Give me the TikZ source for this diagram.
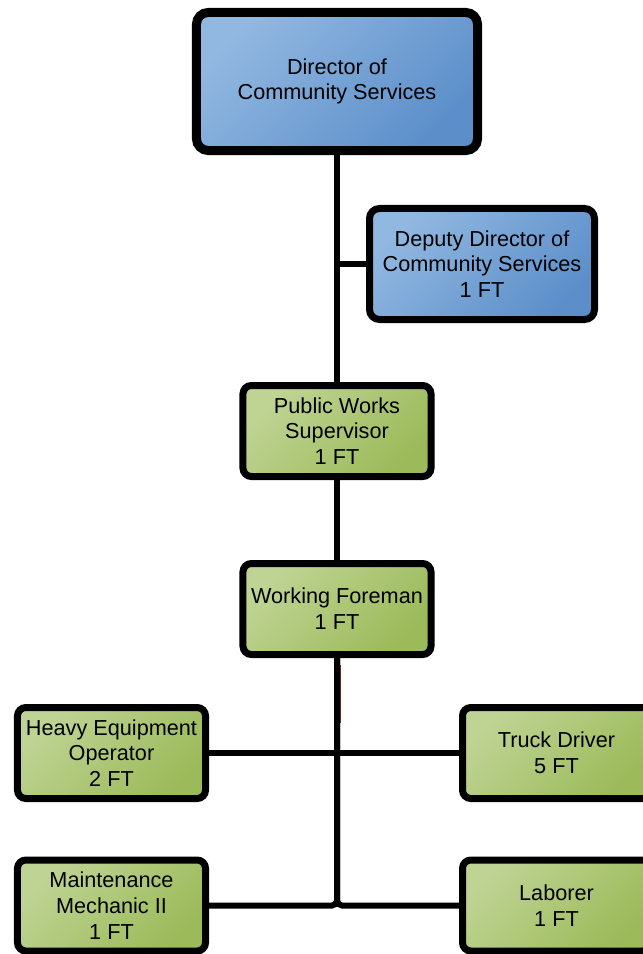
\documentclass[tikz,border=0pt]{standalone}
\usepackage{fontspec}
\setmainfont{Liberation Sans}
\usepackage{tikz}
\definecolor{lblue}{rgb}{0.57, 0.72, 0.88}
\definecolor{dblue}{rgb}{0.36, 0.56, 0.79}
\definecolor{lgreen}{rgb}{0.75, 0.83, 0.58}
\definecolor{dgreen}{rgb}{0.61, 0.73, 0.35}
\definecolor{mbrown}{rgb}{0.4, 0.15, 0.1}
\tikzset{box/.style = {draw, align = center, inner sep = 0,
                       font = \fontsize{18.5}{22}\selectfont}}
\tikzset{bluebox/.style = {box, left color = lblue, right color = dblue, shading angle = 45}}
\tikzset{greenbox/.style = {box, left color = lgreen, right color = dgreen, shading angle = 45,
                            line width = 0.21cm, rounded corners = 0.25cm,
                            minimum width = 5.64cm, minimum height = 2.73cm}}
\tikzset{link/.style = {line width = 0.18cm}}

\begin{document}
\begin{tikzpicture}[x = 0.03cm, y = -0.03cm]
      \useasboundingbox (0, 0) rectangle (642, 954);

      \node [bluebox, line width = 0.27cm, rounded corners = 0.35cm, minimum width = 8.43cm, minimum height = 4.14cm] (dir) at (337, 81.5) {Director of\\Community Services};
      \node [bluebox, line width = 0.21cm, rounded corners = 0.3cm, minimum width = 6.75cm, minimum height = 3.33cm] (dep) at (482, 264) {Deputy Director of\\Community Services\\1 FT};

      \node [greenbox] (pws) at (337, 431) {Public Works\\Supervisor\\1 FT};
      \node [greenbox] (wf) at (337, 609) {Working Foreman\\1 FT};

      \node [greenbox] (heo) at (111.5, 753) {Heavy Equipment\\Operator\\2 FT};
      \node [greenbox] (td) at (556.5, 753) {Truck Driver\\5 FT};
      \node [greenbox] (mm) at (111.5, 905.5) {Maintenance\\Mechanic II\\1 FT};
      \node [greenbox] (lab) at (556.5, 905.5) {Laborer\\1 FT};

      % lines
      \draw [link] (dir) -- (pws);
      \draw [link] (dep.west) -- (dep.west -| dir.south);
      \draw [link] (pws) -- (wf);
      \draw [link] (heo) -- (td);
      \draw [link, rounded corners = 0.15cm] (wf) |- (mm);
      \draw [link, rounded corners = 0.15cm] (wf) |- (lab);
      \draw [mbrown, line width = 0.03cm] (340.5, 665) -- (340.5, 723);
    \end{tikzpicture}
\end{document}
